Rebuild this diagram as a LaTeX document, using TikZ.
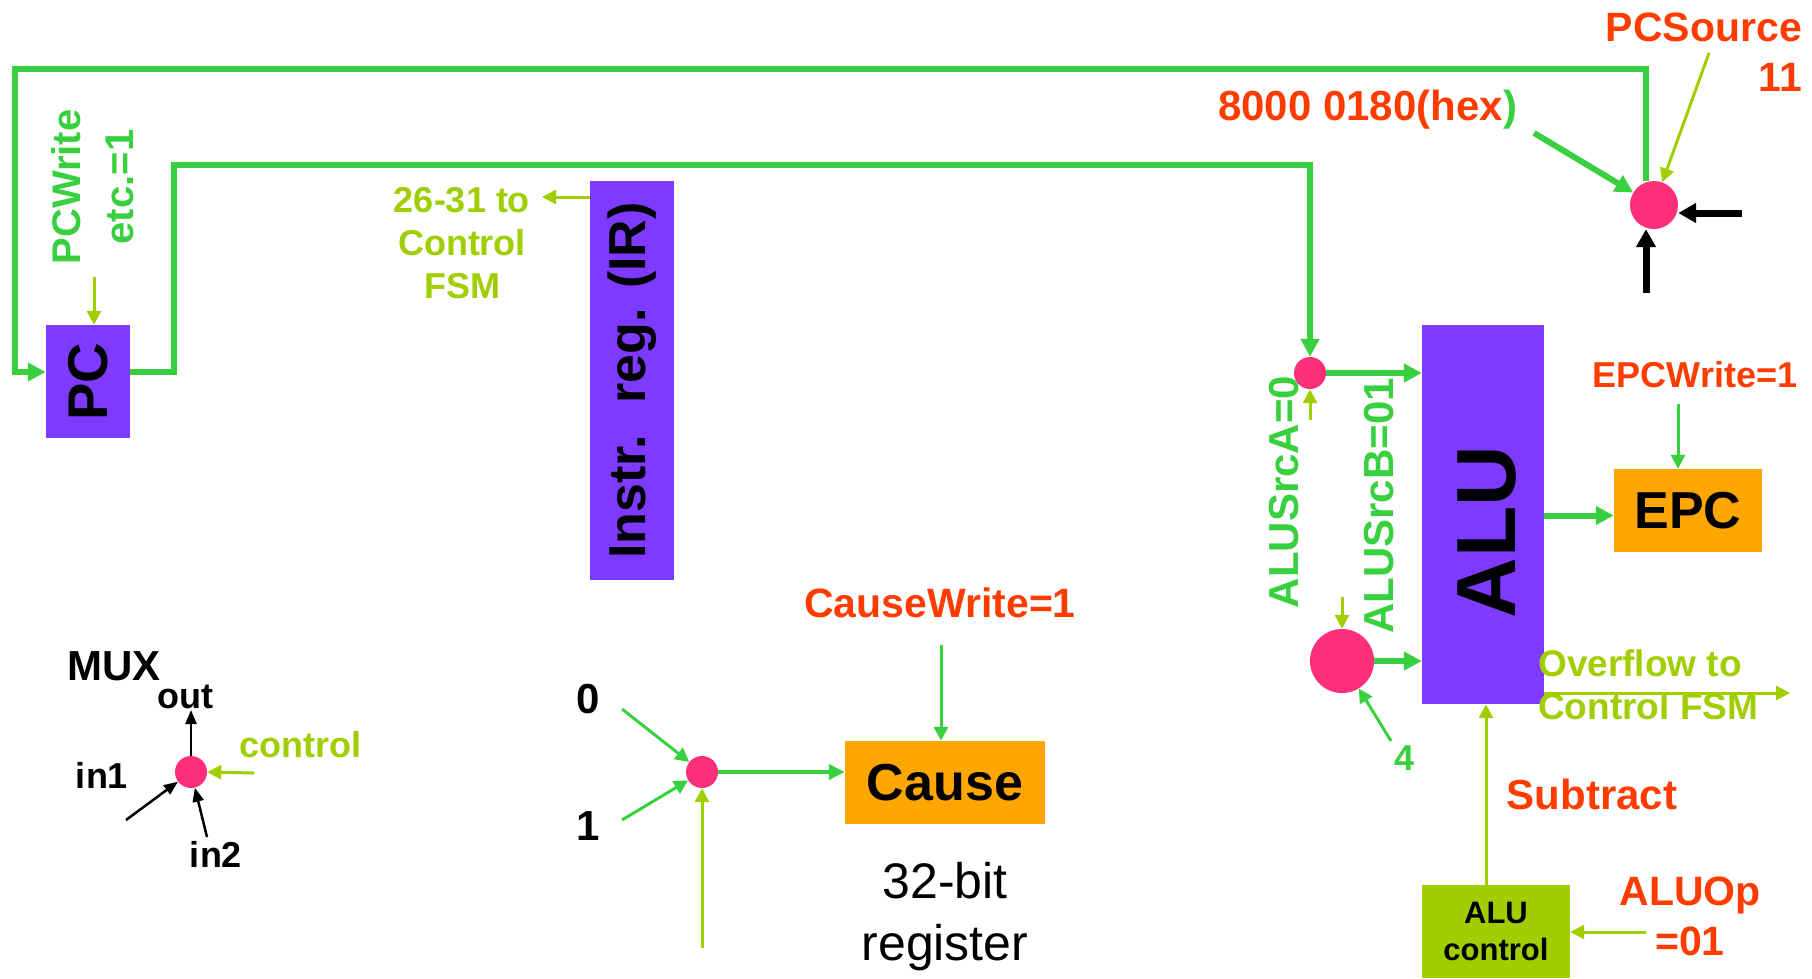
\documentclass[tikz,border=0pt]{standalone}
\usepackage{graphicx}
\usepackage{fontspec}
\setmainfont{Liberation Sans}
\usetikzlibrary{arrows.meta,calc}

\definecolor{wgreen}{RGB}{57,208,64}
\definecolor{ygreen}{RGB}{160,206,0}
\definecolor{lblred}{RGB}{255,60,0}
\definecolor{regpurple}{RGB}{127,58,255}
\definecolor{muxpink}{RGB}{255,46,122}
\definecolor{regorange}{RGB}{255,166,0}

\newcommand{\fsz}[2]{\fontsize{#1}{#2}\selectfont}

\tikzset{
  reg/.style={draw=none, inner sep=0pt, font=\bfseries},
  purplereg/.style={reg, fill=regpurple},
  orangereg/.style={reg, fill=regorange},
  muxdot/.style={circle, fill=muxpink, draw=none, inner sep=0pt, minimum size=#1},
  wire/.style={draw=wgreen, line width=6pt},
  wirearrow/.style={wire, -{Triangle[length=18pt,width=18pt]}},
  midwire/.style={draw=wgreen, line width=4pt, -{Triangle[length=16pt,width=15pt]}},
  ctl/.style={draw=ygreen, line width=3pt, -{Triangle[length=14pt,width=14pt]}},
  gctl/.style={draw=wgreen, line width=3pt, -{Triangle[length=14pt,width=14pt]}},
  blk/.style={draw=black, line width=2.5pt, -{Triangle[length=14pt,width=11pt]}},
  blkthick/.style={draw=black, line width=7pt, -{Triangle[length=18pt,width=19pt]}},
  lbl/.style={inner sep=0pt, align=center},
}

\begin{document}
\begin{tikzpicture}[x=1pt,y=-1pt]
\useasboundingbox (0,0) rectangle (1812,978);

% registers and ALU
\node[purplereg, minimum width=84pt, minimum height=113pt] (PC) at (88,381.5) {\rotatebox{90}{\fsz{56}{60}PC}};
\node[purplereg, minimum width=84pt, minimum height=399pt] (IR) at (632,380.5) {\rotatebox{90}{\fsz{52}{60}Instr.\hspace{0.6em}reg. (IR)}};
\node[purplereg, minimum width=122pt, minimum height=379pt] (ALU) at (1483,514.5) {};
\node[lbl, rotate=90, font=\bfseries\fsz{84}{90}] (ALUtxt) at (1487,532) {ALU};
\node[orangereg, minimum width=148pt, minimum height=83pt, font=\bfseries\fsz{52}{60}] (EPC) at (1688,510.5) {EPC};
\node[orangereg, minimum width=200pt, minimum height=83pt, font=\bfseries\fsz{52}{60}] (Cause) at (945,782.5) {Cause};
\node[reg, fill=ygreen, minimum width=148pt, minimum height=93pt, align=center, font=\bfseries\fsz{31}{37}] (ALUctl) at (1496,931.5) {ALU\\control};

% multiplexers
\node[muxdot=48pt] (mA) at (1654,205) {};
\node[muxdot=32pt] (mB) at (1310,373) {};
\node[muxdot=64pt] (mC) at (1342,661) {};
\node[muxdot=32pt] (mD) at (702,772) {};
\node[muxdot=32pt] (mE) at (191,772) {};

% corner points and free ends
\coordinate (loopTL) at (15,69);
\coordinate (pcUp) at (174,165);
\coordinate (epcIn) at ([yshift=-5pt]EPC.west);
\coordinate (hexTail) at (1534,133);
\coordinate (srcTail) at (1709,53);
\coordinate (blkR) at (1742,213);
\coordinate (blkB) at (1646,293);
\coordinate (pcwTail) at (94,277);
\coordinate (irOut) at (542,197);
\coordinate (srcATail) at (1310,420);
\coordinate (srcBTail) at (1342,597);
\coordinate (fourTail) at (1391,741);
\coordinate (epcwTail) at (1678,404);
\coordinate (ovfEnd) at (1790,693);
\coordinate (aluopTail) at (1646,932);
\coordinate (cwTail) at (941,645);
\coordinate (zeroTail) at (622,709);
\coordinate (oneTail) at (622,820);
\coordinate (selTail) at (702,948);
\coordinate (outTip) at (191,710);
\coordinate (in1Tail) at (126,820);
\coordinate (in2Tail) at (207,837);
\coordinate (ctlTail) at (254,773);

% datapath wires
\draw[wirearrow] ([xshift=-8pt]mA.north) |- (loopTL) |- ([yshift=9.5pt]PC.west);
\draw[wirearrow] ([yshift=9.5pt]PC.east) -| (pcUp) -| (mB.north);
\draw[wirearrow] (mB.east) -- (mB.east -| ALU.west);
\draw[wirearrow] (mC.east) -- (mC.east -| ALU.west);
\draw[wirearrow] (ALU.east |- epcIn) -- (epcIn);
\draw[wirearrow] (hexTail) -- (mA);
\draw[blkthick] (blkR) -- (blkR -| mA.east);
\draw[blkthick] (blkB) -- (blkB |- mA.south);

% control signals
\draw[ctl] (srcTail) -- (mA);
\draw[ctl] (pcwTail) -- (pcwTail |- PC.north);
\draw[ctl] (IR.west |- irOut) -- (irOut);
\draw[ctl] (srcATail) -- (mB.south);
\draw[ctl] (srcBTail) -- (mC.north);
\draw[gctl] (fourTail) -- (mC);
\draw[gctl] (epcwTail) -- (epcwTail |- EPC.north);
\draw[ctl] (ALU.east |- ovfEnd) -- (ovfEnd);
\draw[ctl] (aluopTail) -- (aluopTail -| ALUctl.east);
\draw[ctl] ([xshift=-10pt]ALUctl.north) -- ([xshift=-10pt]ALUctl.north |- ALU.south);
\draw[gctl] (cwTail) -- (cwTail |- Cause.north);
\draw[gctl] (zeroTail) -- (mD);
\draw[gctl] (oneTail) -- (mD);
\draw[ctl] (selTail) -- (mD.south);
\draw[midwire] (mD.east) -- (mD.east -| Cause.west);

% multiplexer legend
\draw[blk] (mE.north) -- (outTip);
\draw[blk] (in1Tail) -- (mE);
\draw[blk] (in2Tail) -- (mE);
\draw[ctl] (ctlTail) -- (mE.east);

% labels
\node[lbl, text=wgreen, rotate=90, font=\bfseries\fsz{40}{53}] (pcwLbl) at (93,187) {PCWrite\\etc.=1};
\node[lbl, text=ygreen, font=\bfseries\fsz{36}{43}] (irLbl) at (462,243) {26-31 to\\Control\\FSM};
\node[lbl, anchor=base west, font=\bfseries\fsz{42}{48}] (hexLbl) at (1218,120) {\textcolor{lblred}{8000 0180(hex}\textcolor{wgreen}{)}};
\node[lbl, align=right, text=lblred, anchor=east, font=\bfseries\fsz{41}{50}] (pcsLbl) at (1802,52) {PCSource\\11};
\node[lbl, text=lblred, font=\bfseries\fsz{36}{40}] (epcwLbl) at (1695,375) {EPCWrite=1};
\node[lbl, text=lblred, font=\bfseries\fsz{41}{46}] (cwLbl) at (940,603) {CauseWrite=1};
\node[lbl, text=lblred, font=\bfseries\fsz{42}{46}] (subLbl) at (1592,794) {Subtract};
\node[lbl, text=lblred, font=\bfseries\fsz{41}{50}] (aluopLbl) at (1690,916) {ALUOp\\=01};
\node[lbl, text=wgreen, rotate=90, font=\bfseries\fsz{42}{46}] (srcALbl) at (1284,492) {ALUSrcA=0};
\node[lbl, text=wgreen, rotate=90, font=\bfseries\fsz{42}{46}] (srcBLbl) at (1379,506) {ALUSrcB=01};
\node[lbl, text=wgreen, font=\bfseries\fsz{36}{40}] (fourLbl) at (1404,758) {4};
\node[lbl, text=ygreen, align=left, anchor=west, font=\bfseries\fsz{37}{43}] (ovfLbl) at (1538,685) {Overflow to\\Control FSM};
\node[lbl, anchor=base west, font=\bfseries\fsz{42}{46}] (muxLbl) at (67,680) {MUX};
\node[lbl, anchor=base, font=\bfseries\fsz{36}{40}] (outLbl) at (185,708) {out};
\node[lbl, anchor=base, font=\bfseries\fsz{36}{40}] (in1Lbl) at (102,788) {in1};
\node[lbl, anchor=base, font=\bfseries\fsz{36}{40}] (in2Lbl) at (216,867) {in2};
\node[lbl, text=ygreen, anchor=base, font=\bfseries\fsz{36}{40}] (ctlLbl) at (300,757) {control};
\node[lbl, anchor=base, font=\bfseries\fsz{42}{46}] (zeroLbl) at (588,713) {0};
\node[lbl, anchor=base, font=\bfseries\fsz{42}{46}] (oneLbl) at (588,840) {1};
\node[lbl, font=\fsz{50}{62}] (bitLbl) at (945,917) {32-bit\\register};
\end{tikzpicture}
\end{document}
